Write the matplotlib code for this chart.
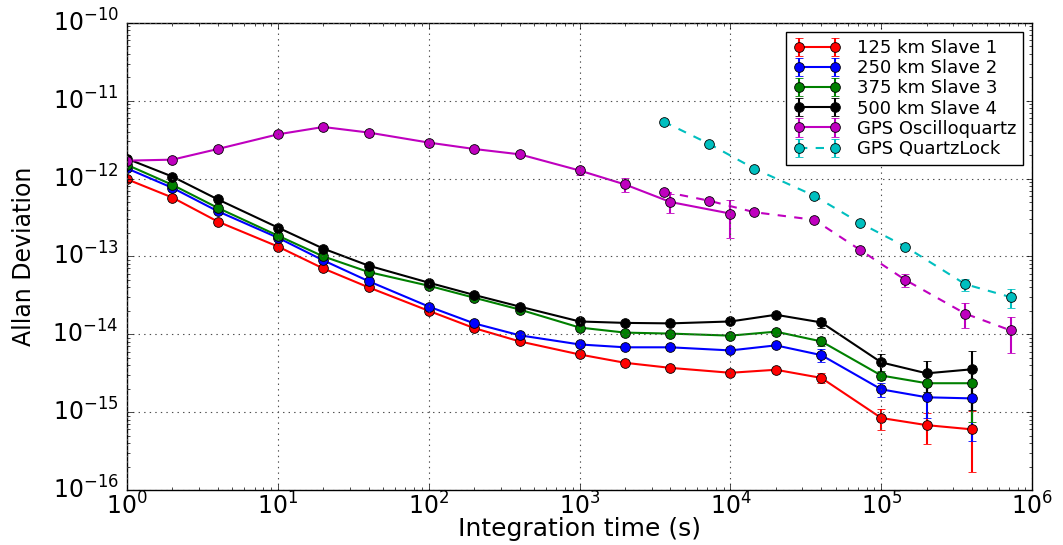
import matplotlib
matplotlib.use("Agg")
import matplotlib.pyplot as plt
import numpy as np

# averaging times (s)
tau = [1, 2, 4, 10, 20, 40, 100, 200, 400, 1000, 2000, 4000,
       10000, 20000, 40000, 100000, 200000, 400000]

slave1 = [9.8e-13, 5.7e-13, 2.8e-13, 1.34e-13, 7.0e-14, 4.0e-14, 2.0e-14, 1.2e-14, 8.1e-15,
          5.5e-15, 4.3e-15, 3.7e-15, 3.2e-15, 3.5e-15, 2.75e-15, 8.4e-16, 6.8e-16, 6.0e-16]
slave1_err = [1e-14, 6e-15, 3e-15, 1.5e-15, 8e-16, 5e-16, 2.5e-16, 1.5e-16, 1e-16,
              8e-17, 8e-17, 1e-16, 1.5e-16, 2e-16, 4e-16, 2.5e-16, 2.9e-16, 4.3e-16]

slave2 = [1.35e-12, 7.6e-13, 3.8e-13, 1.74e-13, 8.9e-14, 4.8e-14, 2.27e-14, 1.38e-14, 9.7e-15,
          7.4e-15, 6.8e-15, 6.8e-15, 6.2e-15, 7.2e-15, 5.4e-15, 1.96e-15, 1.55e-15, 1.5e-15]
slave2_err = [1.4e-14, 8e-15, 4e-15, 2e-15, 1e-15, 5e-16, 3e-16, 2e-16, 1.5e-16,
              1.2e-16, 1.2e-16, 1.5e-16, 2e-16, 4e-16, 1e-15, 4e-16, 7e-16, 1.07e-15]

slave3 = [1.5e-12, 8.3e-13, 4.2e-13, 1.85e-13, 1.0e-13, 6.3e-14, 4.2e-14, 2.95e-14, 2.08e-14,
          1.22e-14, 1.05e-14, 1.02e-14, 9.6e-15, 1.08e-14, 8.1e-15, 2.95e-15, 2.35e-15, 2.35e-15]
slave3_err = [1.5e-14, 8e-15, 4e-15, 2e-15, 1e-15, 6e-16, 4e-16, 3e-16, 2e-16,
              1.5e-16, 1.5e-16, 2e-16, 3e-16, 5e-16, 1e-15, 4e-16, 8e-16, 1.6e-15]

slave4 = [1.8e-12, 1.06e-12, 5.4e-13, 2.35e-13, 1.26e-13, 7.6e-14, 4.6e-14, 3.2e-14, 2.27e-14,
          1.46e-14, 1.4e-14, 1.38e-14, 1.46e-14, 1.78e-14, 1.42e-14, 4.35e-15, 3.15e-15, 3.55e-15]
slave4_err = [1.8e-14, 1e-14, 5e-15, 2.5e-15, 1.3e-15, 8e-16, 5e-16, 4e-16, 3e-16,
              2e-16, 2e-16, 3e-16, 5e-16, 8e-16, 2e-15, 1.3e-15, 1.35e-15, 2.5e-15]

# GPS Oscilloquartz, short taus (solid)
tau_oq = [1, 2, 4, 10, 20, 40, 100, 200, 400, 1000, 2000, 4000, 10000]
oq = [1.7e-12, 1.75e-12, 2.4e-12, 3.7e-12, 4.6e-12, 3.9e-12, 2.9e-12, 2.4e-12, 2.05e-12,
      1.27e-12, 8.4e-13, 5.0e-13, 3.55e-13]
oq_err = [2e-14, 2e-14, 3e-14, 4e-14, 5e-14, 5e-14, 4e-14, 4e-14, 4e-14,
          1.5e-13, 1.7e-13, 1.4e-13, 1.8e-13]

# long taus (dashed)
tau_long = [3600, 7200, 14400, 36000, 72000, 144000, 360000, 720000]
oq_long = [6.8e-13, 5.2e-13, 3.7e-13, 2.95e-13, 1.22e-13, 5.0e-14, 1.84e-14, 1.12e-14]
oq_long_err = [1e-14, 1e-14, 1e-14, 1e-14, 5e-15, 1e-14, 6.5e-15, 5.5e-15]

ql = [5.4e-12, 2.8e-12, 1.34e-12, 6.0e-13, 2.7e-13, 1.34e-13, 4.4e-14, 3.0e-14]
ql_err = [5e-14, 4e-14, 3e-14, 2e-14, 1e-14, 8e-15, 8e-15, 8e-15]

plt.style.use('classic')
plt.rcParams['font.family'] = 'DejaVu Sans'
plt.rcParams['mathtext.default'] = 'regular'

fig = plt.figure(figsize=(10.63, 5.45), dpi=100, facecolor='white')
ax = fig.add_axes([0.1195, 0.101, 0.8515, 0.857])

kw = dict(marker='o', markersize=7, mec='k', mew=0.6, lw=1.5, capsize=3, elinewidth=1.5)
ax.errorbar(tau, slave1, yerr=slave1_err, color='r', label='125 km Slave 1', **kw)
ax.errorbar(tau, slave2, yerr=slave2_err, color='b', label='250 km Slave 2', **kw)
ax.errorbar(tau, slave3, yerr=slave3_err, color='g', label='375 km Slave 3', **kw)
ax.errorbar(tau, slave4, yerr=slave4_err, color='k', label='500 km Slave 4', **kw)
ax.errorbar(tau_oq, oq, yerr=oq_err, color='m', label='GPS Oscilloquartz', **kw)
ax.errorbar(tau_long, oq_long, yerr=oq_long_err, color='m', ls='--', **kw)
ax.errorbar(tau_long, ql, yerr=ql_err, color='c', ls='--', label='GPS QuartzLock', **kw)

ax.set_xscale('log')
ax.set_yscale('log')
ax.set_xlim(1, 1e6)
ax.set_ylim(1e-16, 1e-10)
ax.grid(True, which='major', color='0.3', ls=':', lw=0.8)
ax.tick_params(labelsize=17)
ax.tick_params(axis='x', pad=2)
ax.tick_params(axis='y', pad=6)
ax.set_xlabel('Integration time (s)', fontsize=18, labelpad=-2)
ax.set_ylabel('Allan Deviation', fontsize=17, labelpad=12)

leg = ax.legend(loc='upper right', fontsize=13, numpoints=2, handlelength=2.6,
                borderaxespad=0.5, labelspacing=0.12, handletextpad=0.9)
leg.get_frame().set_linewidth(1.0)

fig.savefig('out.png', dpi=100, facecolor='white')
